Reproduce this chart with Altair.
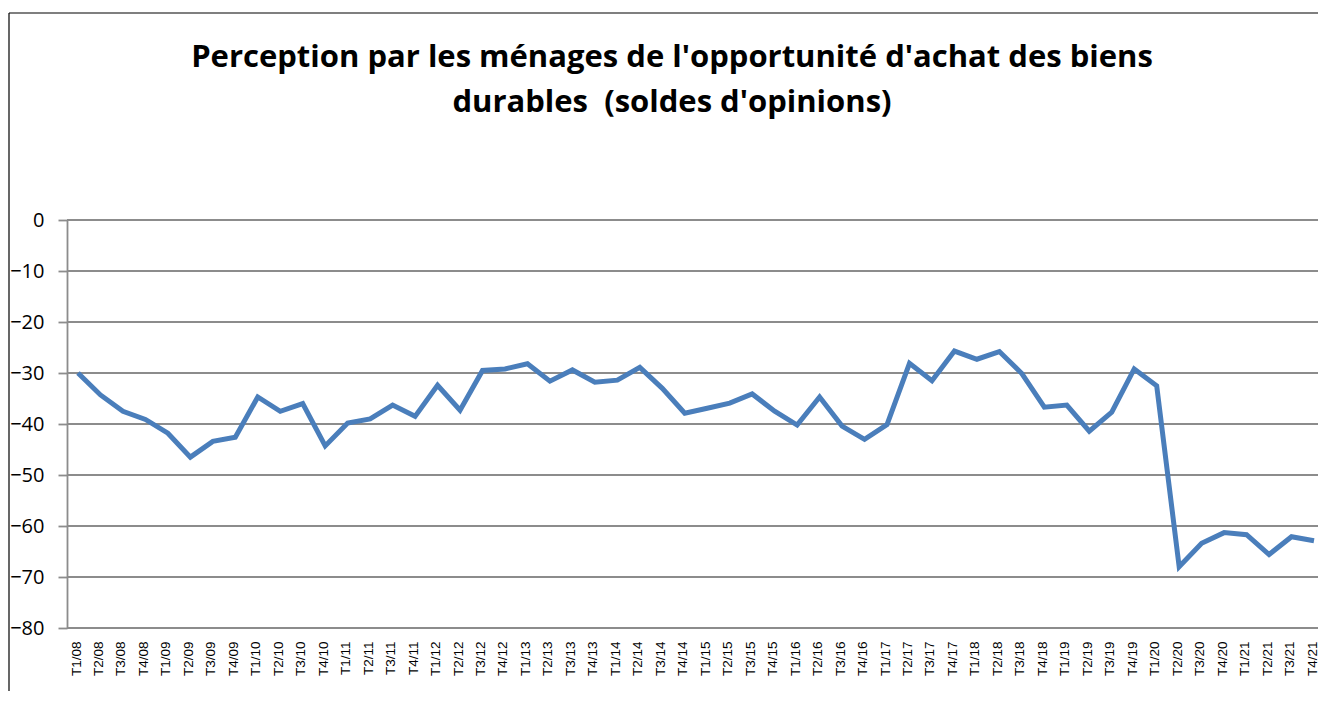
import altair as alt
import pandas as pd

quarters = [f"T{q}/{y:02d}" for y in range(8, 22) for q in range(1, 5)]
values = [
    -30.0, -34.3, -37.5, -39.1, -41.8, -46.5, -43.4, -42.6,
    -34.7, -37.5, -36.0, -44.3, -39.8, -39.0, -36.3, -38.5,
    -32.4, -37.3, -29.5, -29.2, -28.2, -31.6, -29.4, -31.8,
    -31.4, -28.9, -33.0, -37.9, -36.9, -35.9, -34.1, -37.5,
    -40.2, -34.7, -40.4, -43.0, -40.1, -28.1, -31.5, -25.7,
    -27.3, -25.8, -30.1, -36.7, -36.3, -41.4, -37.7, -29.2,
    -32.5, -68.0, -63.4, -61.3, -61.7, -65.6, -62.1, -62.9,
]
title_lines = ["Perception par les ménages de l'opportunité d'achat des biens",
               "durables\u00a0 (soldes d'opinions)"]
y_ticks = [0, -10, -20, -30, -40, -50, -60, -70, -80]

df = pd.DataFrame({"periode": quarters, "solde": values})
grid_df = pd.DataFrame({"v": y_ticks})

W, H = 1251, 408
y_scale = alt.Scale(domain=[-80, 0], nice=False)
y_axis = alt.Axis(title=None, values=y_ticks, format="d", grid=False,
                  labelFont="Open Sans", labelFontSize=20, labelColor="#000000",
                  labelPadding=14, tickSize=9, tickColor="#8c8c8c",
                  tickWidth=1.8, domainColor="#8c8c8c", domainWidth=1.8)

grid = alt.Chart(grid_df).mark_rule(color="#8c8c8c", strokeWidth=1.8, clip=False).encode(
    y=alt.Y("v:Q", scale=y_scale, axis=y_axis),
    x=alt.value(0), x2=alt.value(W),
)

line = alt.Chart(df).mark_line(color="#4a7ebb", strokeWidth=5, clip=False).encode(
    x=alt.X("periode:O", sort=quarters,
            scale=alt.Scale(type="point", padding=0, range=[11, 1247]),
            axis=alt.Axis(title=None, labelAngle=-90, labelAlign="right",
                          labelBaseline="middle", ticks=False, labelPadding=13,
                          labelOffset=-2,
                          labelFont="Liberation Sans", labelFontSize=13.5,
                          labelColor="#000000", domain=False, grid=False)),
    y=alt.Y("solde:Q", scale=y_scale, axis=y_axis),
)

one = pd.DataFrame({"k": [0]})
left_frame = alt.Chart(one).mark_rule(color="#000000", strokeWidth=1.2, clip=False).encode(
    x=alt.value(-58), y=alt.value(-207), y2=alt.value(H + 63))
top_frame = alt.Chart(one).mark_rule(color="#000000", strokeWidth=1.2, clip=False).encode(
    x=alt.value(-58), x2=alt.value(W), y=alt.value(-207))

title1 = alt.Chart(one).mark_text(font="Open Sans", fontSize=31, fontWeight="bold", color="#000000",
                                  align="center", baseline="alphabetic").encode(
    x=alt.value(605), y=alt.value(-153), text=alt.value(title_lines[0]))
title2 = alt.Chart(one).mark_text(font="Open Sans", fontSize=31, fontWeight="bold", color="#000000",
                                  align="center", baseline="alphabetic").encode(
    x=alt.value(605), y=alt.value(-108), text=alt.value(title_lines[1]))

chart = alt.layer(grid, line, left_frame, top_frame, title1, title2).properties(
    width=W, height=H,
    autosize=alt.AutoSizeParams(type="none"),
    padding={"left": 59, "top": 212, "right": 0, "bottom": 63},
).configure_view(stroke=None).configure(background="#ffffff")

chart.save("out.html", embed_options={"renderer": "svg", "actions": False})
